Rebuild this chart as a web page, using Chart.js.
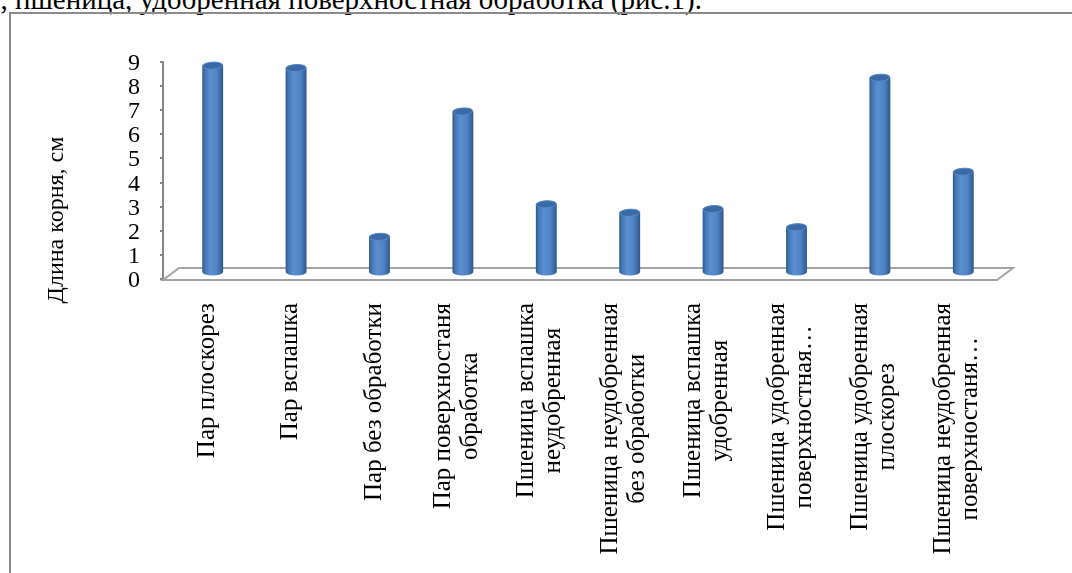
<!DOCTYPE html>
<html>
<head>
<meta charset="utf-8">
<script src="https://cdn.jsdelivr.net/npm/chart.js@4.4.1/dist/chart.umd.min.js"></script>
<style>
  html, body { margin: 0; padding: 0; background: #fff; width: 1072px; height: 573px; overflow: hidden; }
  body, .txt { font-family: "Liberation Serif", "Times New Roman", serif; color: #000; }
  #lead {
    position: absolute; right: 370px; top: -15px;
    font-size: 29px; line-height: 29px; white-space: nowrap;
  }
  #frame {
    position: absolute; left: 9px; top: 12px; width: 1200px; height: 700px;
    border-left: 2px solid #8a8a8a; border-top: 2px solid #8a8a8a;
  }
  #wrap { position: absolute; left: 0; top: 0; width: 1072px; height: 573px; }
  #text { position: absolute; left: 0; top: 0; width: 1072px; height: 573px; pointer-events: none; }
  .ytick { position: absolute; left: 0; text-align: right; font-size: 24px; line-height: 24px; transform: translateY(-50%); }
  .cat {
    position: absolute; font-size: 25px; line-height: 27px; text-align: center; white-space: nowrap;
    transform-origin: 0 0; transform: rotate(-90deg) translate(-100%, -50%);
  }
  .ytitle {
    position: absolute; font-size: 24px; line-height: 27px; white-space: nowrap;
    transform-origin: 0 0; transform: rotate(-90deg) translate(-50%, -50%);
  }
</style>
</head>
<body>
<div id="lead" class="txt">, пшеница, удобренная поверхностная обработка (рис.1).</div>
<div id="frame"></div>
<div id="wrap"><canvas id="c" width="1072" height="573"></canvas></div>
<div id="text" class="txt"></div>
<script>
// Root length by field variant
const categories = [
  'Пар плоскорез',
  'Пар вспашка',
  'Пар без обработки',
  ['Пар поверхностаня', 'обработка'],
  ['Пшеница вспашка', 'неудобренная'],
  ['Пшеница неудобренная', 'без обработки'],
  ['Пшеница вспашка', 'удобренная'],
  ['Пшеница удобренная', 'поверхностная…'],
  ['Пшеница удобренная', 'плоскорез'],
  ['Пшеница неудобренная', 'поверхностаня…']
];
const rootLength = [8.6, 8.5, 1.5, 6.7, 2.85, 2.5, 2.65, 1.9, 8.1, 4.2];
const yMin = 0;
const yMax = 9;
const yStep = 1;
const yTitle = 'Длина корня, см';

const AXIS_GREY = '#868686';
const DEPTH = { dx: 16, dy: 12 };   // offset of the back edge of the floor
const TICK_LABEL_RIGHT = 140;      // right edge of the value labels
const LABEL_TOP = 303;             // top of the rotated category labels
const TITLE_POS = { x: 55, y: 220 };

// Floor of the 3-D plot: a flat parallelogram under the bars
const floorPlugin = {
  id: 'floor',
  beforeDatasetsDraw(chart) {
    const { ctx, chartArea: a } = chart;
    const y = a.bottom + 1;
    ctx.save();
    ctx.strokeStyle = '#a3a3a3';
    ctx.lineWidth = 2;
    ctx.beginPath();
    ctx.moveTo(a.left, y);
    ctx.lineTo(a.right, y);
    ctx.lineTo(a.right + DEPTH.dx, y - DEPTH.dy);
    ctx.lineTo(a.left + DEPTH.dx, y - DEPTH.dy);
    ctx.closePath();
    ctx.stroke();
    ctx.restore();
  }
};

// Each bar element is drawn as a shaded cylinder standing mid-depth on the floor
function drawCylinder(ctx, cx, top, base, w) {
  const rx = w / 2, ry = 3.5;
  const g = ctx.createLinearGradient(cx - rx, 0, cx + rx, 0);
  g.addColorStop(0, '#2c5689');
  g.addColorStop(0.12, '#4375b3');
  g.addColorStop(0.38, '#5b8fd1');
  g.addColorStop(0.7, '#4e83c4');
  g.addColorStop(0.9, '#3a679f');
  g.addColorStop(1, '#2d5688');
  ctx.beginPath();
  ctx.moveTo(cx - rx, top);
  ctx.lineTo(cx - rx, base);
  ctx.ellipse(cx, base, rx, ry, 0, Math.PI, 0, true);
  ctx.lineTo(cx + rx, top);
  ctx.ellipse(cx, top, rx, ry, 0, 0, Math.PI, true);
  ctx.closePath();
  ctx.fillStyle = g;
  ctx.fill();
  ctx.beginPath();
  ctx.ellipse(cx, top, rx - 0.5, ry, -0.06, 0, Math.PI * 2);
  ctx.fillStyle = '#3b69a5';
  ctx.fill();
  ctx.lineWidth = 1;
  ctx.strokeStyle = '#5687c6';
  ctx.stroke();
}

const cylinderPlugin = {
  id: 'cylinders',
  afterDatasetsDraw(chart) {
    const { ctx } = chart;
    const meta = chart.getDatasetMeta(0);
    ctx.save();
    meta.data.forEach(el => {
      const cx = el.x + DEPTH.dx / 2;
      const top = el.y - DEPTH.dy / 2;
      const base = el.base - DEPTH.dy / 2;
      drawCylinder(ctx, cx, top, base, el.width);
    });
    ctx.restore();
  }
};

// Text layer: value labels, category labels and the axis title, placed from the chart's scales
const textPlugin = {
  id: 'textLayer',
  afterDraw(chart) {
    const layer = document.getElementById('text');
    layer.innerHTML = '';
    const ys = chart.scales.y;
    const xs = chart.scales.x;
    ys.ticks.forEach(t => {
      const d = document.createElement('div');
      d.className = 'ytick';
      d.style.width = TICK_LABEL_RIGHT + 'px';
      d.style.top = ys.getPixelForValue(t.value) + 'px';
      d.textContent = t.label;
      layer.appendChild(d);
    });
    chart.data.labels.forEach((lab, i) => {
      const lines = Array.isArray(lab) ? lab : [lab];
      const d = document.createElement('div');
      d.className = 'cat';
      d.style.left = xs.getPixelForValue(i) + 'px';
      d.style.top = LABEL_TOP + 'px';
      lines.forEach((ln, j) => {
        if (j) d.appendChild(document.createElement('br'));
        d.appendChild(document.createTextNode(ln));
      });
      layer.appendChild(d);
    });
    const t = document.createElement('div');
    t.className = 'ytitle';
    t.style.left = TITLE_POS.x + 'px';
    t.style.top = TITLE_POS.y + 'px';
    t.textContent = yTitle;
    layer.appendChild(t);
  }
};

new Chart(document.getElementById('c'), {
  type: 'bar',
  data: {
    labels: categories,
    datasets: [{
      data: rootLength,
      backgroundColor: 'rgba(0,0,0,0)',
      borderWidth: 0,
      barPercentage: 0.25,
      categoryPercentage: 1
    }]
  },
  options: {
    responsive: false,
    devicePixelRatio: 1,
    animation: false,
    layout: { padding: { left: 0, top: 62, right: 75, bottom: 294 } },
    plugins: { legend: { display: false }, tooltip: { enabled: false } },
    scales: {
      x: {
        ticks: { display: false },
        grid: { display: false, drawTicks: false },
        border: { display: false },
        afterFit(scale) { scale.height = 0; }
      },
      y: {
        min: yMin,
        max: yMax,
        ticks: { stepSize: yStep, autoSkip: false, display: false },
        grid: { drawOnChartArea: false, drawTicks: true, tickLength: 3, color: AXIS_GREY, lineWidth: 2 },
        border: { display: true, color: AXIS_GREY, width: 2 },
        afterFit(scale) { scale.width = 163; }
      }
    }
  },
  plugins: [floorPlugin, cylinderPlugin, textPlugin]
});
</script>
</body>
</html>
